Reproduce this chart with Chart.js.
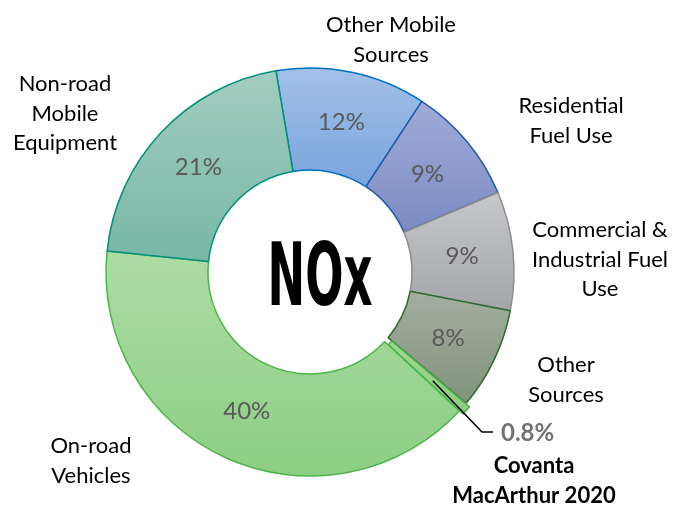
<!DOCTYPE html>
<html>
<head>
<meta charset="utf-8">
<script src="https://cdn.jsdelivr.net/npm/chart.js@4.4.1/dist/chart.umd.min.js"></script>
<style>
  html, body { margin: 0; padding: 0; background: #fff; }
  #wrap { width: 674px; height: 512px; }
</style>
</head>
<body>
<div id="wrap"><canvas id="noxChart" width="674" height="512"></canvas></div>
<script>
// NOx emission shares by source (percent)
const categories = [
  ['Other Mobile', 'Sources'],
  ['Residential', 'Fuel Use'],
  ['Commercial &', 'Industrial Fuel', 'Use'],
  ['Other', 'Sources'],
  ['Covanta', 'MacArthur 2020'],
  ['On-road', 'Vehicles'],
  ['Non-road', 'Mobile', 'Equipment']
];
const shares = [11.9, 9.4, 9.4, 8.1, 0.8, 39.7, 20.7];
const shareLabels = ['12%', '9%', '9%', '8%', '0.8%', '40%', '21%'];
const centerText = 'NOx';
const covantaIndex = 4;

// colours: top of slice, bottom of slice, outline
const lightColors = ['#a2c0e9', '#a1abd7', '#c7c8cc', '#a3af9f', '#a6d69a', '#acdca4', '#a3cdc0'];
const darkColors  = ['#79a4dc', '#7a8bc3', '#a4a5a9', '#80927c', '#8ccb80', '#8dce84', '#78b7a5'];
const edgeColors  = ['#0070c0', '#1f58a8', '#8c8c8c', '#2e6a2e', '#4cb548', '#4cb548', '#00907a'];

const font = 'Lato, "Open Sans", sans-serif';

const gradientFill = {
  id: 'gradientFill',
  beforeDatasetsDraw(chart) {
    const ctx = chart.ctx;
    chart.getDatasetMeta(0).data.forEach((arc, i) => {
      const p = arc.getProps(['x', 'y', 'startAngle', 'endAngle', 'innerRadius', 'outerRadius']);
      let top = Infinity, bot = -Infinity;
      for (let k = 0; k <= 40; k++) {
        const a = p.startAngle + (p.endAngle - p.startAngle) * k / 40;
        [p.innerRadius, p.outerRadius].forEach(r => {
          const y = p.y + Math.sin(a) * r;
          top = Math.min(top, y);
          bot = Math.max(bot, y);
        });
      }
      const g = ctx.createLinearGradient(0, top, 0, bot);
      g.addColorStop(0, lightColors[i]);
      g.addColorStop(1, darkColors[i]);
      arc.options.backgroundColor = g;
    });
  }
};

// where the outside category names sit: centre x, first baseline
const namePos = [
  [391, 32], [571, 113], [600, 237], [566, 372], [534, 473], [91, 453], [65, 91]
];

const labelsPlugin = {
  id: 'labelsPlugin',
  afterDatasetsDraw(chart) {
    const ctx = chart.ctx;
    const arcs = chart.getDatasetMeta(0).data;
    ctx.save();

    // percentages inside the ring
    ctx.font = '24px ' + font;
    ctx.fillStyle = '#595959';
    ctx.textAlign = 'center';
    ctx.textBaseline = 'middle';
    arcs.forEach((arc, i) => {
      if (i === covantaIndex) return;
      const pt = arc.getCenterPoint();
      ctx.fillText(shareLabels[i], pt.x, pt.y);
    });

    // category names
    ctx.textBaseline = 'alphabetic';
    categories.forEach((lines, i) => {
      ctx.font = (i === covantaIndex ? 'bold ' : '') + '22px ' + font;
      ctx.fillStyle = '#000';
      lines.forEach((ln, j) => ctx.fillText(ln, namePos[i][0], namePos[i][1] + j * 29.5));
    });

    // leader line + value for the Covanta slice
    const cov = arcs[covantaIndex];
    const mid = (cov.startAngle + cov.endAngle) / 2;
    const r = (cov.innerRadius + cov.outerRadius) / 2 + cov.options.offset + 1;
    ctx.strokeStyle = '#000';
    ctx.lineWidth = 1.5;
    ctx.beginPath();
    ctx.moveTo(cov.x + Math.cos(mid) * r, cov.y + Math.sin(mid) * r);
    ctx.lineTo(482, 432);
    ctx.lineTo(493, 432);
    ctx.stroke();
    ctx.font = 'bold 24px ' + font;
    ctx.fillStyle = '#737373';
    ctx.textAlign = 'left';
    ctx.textBaseline = 'middle';
    ctx.fillText(shareLabels[covantaIndex], 501, 433);

    // centre title
    ctx.font = 'bold 88px "Liberation Sans Narrow", "DejaVu Sans Condensed", sans-serif';
    const w = ctx.measureText(centerText).width;
    ctx.translate(cov.x + 10, cov.y);
    ctx.scale(105 / w, 1);
    ctx.fillStyle = '#000';
    ctx.textAlign = 'left';
    ctx.textBaseline = 'alphabetic';
    ctx.fillText(centerText, -w / 2, 33);
    ctx.restore();
  }
};

new Chart(document.getElementById('noxChart'), {
  type: 'doughnut',
  data: {
    labels: categories,
    datasets: [{
      data: shares,
      backgroundColor: darkColors,
      borderColor: edgeColors,
      borderWidth: 1.5,
      offset: (c) => c.dataIndex === covantaIndex ? 10 : 0
    }]
  },
  options: {
    responsive: false,
    animation: false,
    rotation: -9.6,
    radius: 204,
    cutout: '50%',
    layout: { padding: { left: 0, right: 54, top: 40, bottom: 8 } },
    plugins: {
      legend: { display: false },
      tooltip: { enabled: false }
    }
  },
  plugins: [gradientFill, labelsPlugin]
});
</script>
</body>
</html>
